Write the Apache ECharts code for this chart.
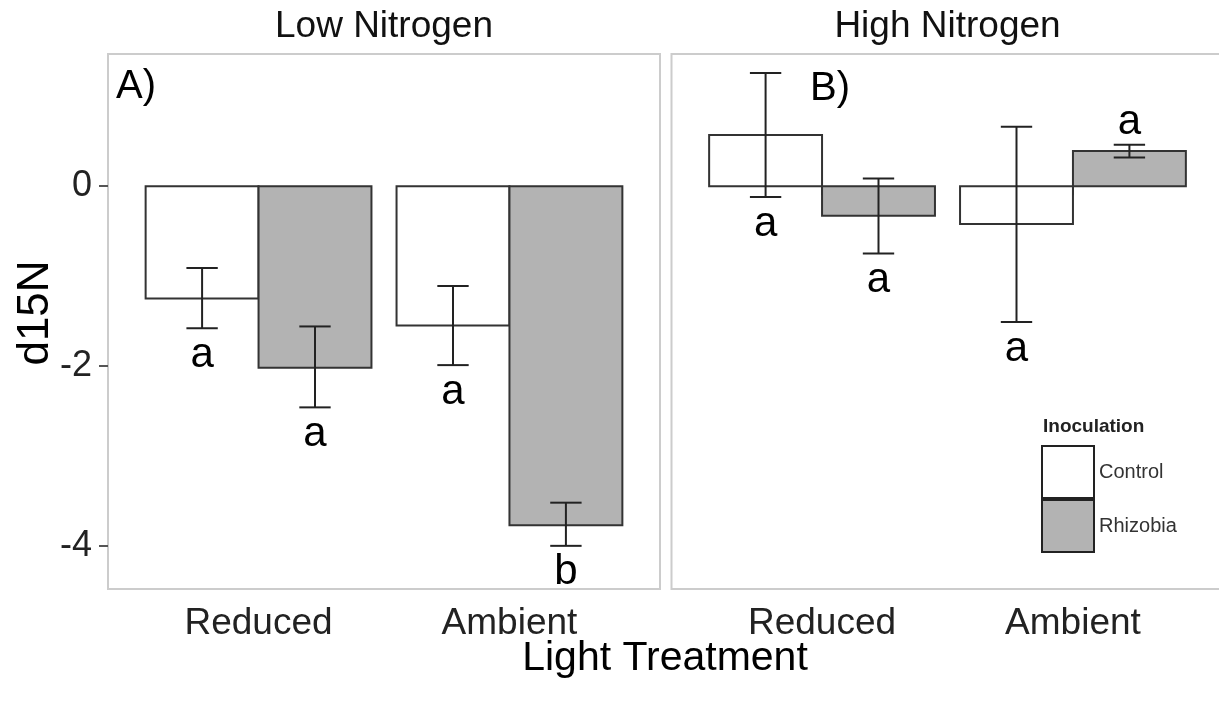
<!DOCTYPE html>
<html>
<head>
<meta charset="utf-8">
<script src="https://cdn.jsdelivr.net/npm/echarts@6/dist/echarts.min.js"></script>
<style>
html,body{margin:0;padding:0;background:#fff;}
#chart{width:1219px;height:704px;}
</style>
</head>
<body>
<div id="chart"></div>
<script>
// ---- data ----
const panels = ['Low Nitrogen', 'High Nitrogen'];
const panelTags = ['A)', 'B)'];
const lightLevels = ['Reduced', 'Ambient'];
const inoculations = ['Control', 'Rhizobia'];
const yTicks = [-4, -2, 0];

// Low nitrogen (index: Reduced, Ambient)
const lowControlMean = [-1.25, -1.55];
const lowControlLow  = [-1.58, -1.99];
const lowControlHigh = [-0.91, -1.11];
const lowRhizobiaMean = [-2.02, -3.77];
const lowRhizobiaLow  = [-2.46, -4.00];
const lowRhizobiaHigh = [-1.56, -3.52];
const lowControlLetters = ['a', 'a'];
const lowRhizobiaLetters = ['a', 'b'];
const lowControlLetterSide = ['below', 'below'];
const lowRhizobiaLetterSide = ['below', 'below'];

// High nitrogen
const highControlMean = [0.57, -0.42];
const highControlLow  = [-0.12, -1.51];
const highControlHigh = [1.26, 0.66];
const highRhizobiaMean = [-0.33, 0.39];
const highRhizobiaLow  = [-0.75, 0.32];
const highRhizobiaHigh = [0.086, 0.46];
const highControlLetters = ['a', 'a'];
const highRhizobiaLetters = ['a', 'a'];
const highControlLetterSide = ['below', 'below'];
const highRhizobiaLetterSide = ['below', 'above'];

// ---- build ----
const FONT = '"Liberation Sans", Arial, Helvetica, sans-serif';
const fills = { Control: '#ffffff', Rhizobia: '#b3b3b3' };
const dodge = { Control: -0.225, Rhizobia: 0.225 };
const BAR_W = 0.45;
const CAP_W = 0.125;

function rows(mean, lo, hi, letters, sides) {
  return mean.map((m, i) => [i + 1, m, lo[i], hi[i], letters[i], sides[i]]);
}
const panelData = [
  { Control: rows(lowControlMean, lowControlLow, lowControlHigh, lowControlLetters, lowControlLetterSide),
    Rhizobia: rows(lowRhizobiaMean, lowRhizobiaLow, lowRhizobiaHigh, lowRhizobiaLetters, lowRhizobiaLetterSide) },
  { Control: rows(highControlMean, highControlLow, highControlHigh, highControlLetters, highControlLetterSide),
    Rhizobia: rows(highRhizobiaMean, highRhizobiaLow, highRhizobiaHigh, highRhizobiaLetters, highRhizobiaLetterSide) }
];

const gridLeft = [108, 671.5];
const grids = gridLeft.map(l => ({
  left: l, top: 54, width: 552, height: 535,
  show: true, borderColor: '#cccccc', borderWidth: 2, backgroundColor: 'transparent',
  containLabel: false, outerBoundsMode: 'none'
}));

const xAxes = panels.map((p, i) => ({
  type: 'value', gridIndex: i, min: 0.4, max: 2.6,
  splitLine: { show: false },
  axisLine: { show: false },
  axisTick: { show: true, customValues: [1, 2], length: 9, lineStyle: { color: '#555', width: 2 } },
  axisLabel: { show: true, customValues: [1, 2], margin: 16,
    formatter: v => lightLevels[Math.round(v) - 1] || '',
    fontFamily: FONT, fontSize: 37, color: '#222' }
}));

const yAxes = panels.map((p, i) => ({
  type: 'value', gridIndex: i, min: -4.48, max: 1.47,
  splitLine: { show: false },
  axisLine: { show: false },
  axisTick: { show: i === 0, customValues: yTicks, length: 9, lineStyle: { color: '#555', width: 2 } },
  axisLabel: { show: i === 0, customValues: yTicks, margin: 16,
    formatter: v => String(v), fontFamily: FONT, fontSize: 36, color: '#222' }
}));

const series = [];
panels.forEach((p, pi) => {
  inoculations.forEach(inoc => {
    series.push({
      type: 'custom', name: inoc, xAxisIndex: pi, yAxisIndex: pi,
      data: panelData[pi][inoc],
      encode: { x: 0, y: 1 },
      itemStyle: { color: fills[inoc] },
      renderItem: function (params, api) {
        const xc = api.value(0) + dodge[inoc];
        const m = api.value(1);
        const a = api.coord([xc - BAR_W / 2, m]);
        const b = api.coord([xc + BAR_W / 2, 0]);
        return {
          type: 'rect',
          shape: { x: Math.min(a[0], b[0]), y: Math.min(a[1], b[1]),
                   width: Math.abs(b[0] - a[0]), height: Math.abs(b[1] - a[1]) },
          style: { fill: fills[inoc], stroke: '#333333', lineWidth: 2 }
        };
      }
    });
  });
});
// error bars and letters drawn on top
panels.forEach((p, pi) => {
  inoculations.forEach(inoc => {
    series.push({
      type: 'custom', name: inoc + ' err', xAxisIndex: pi, yAxisIndex: pi,
      data: panelData[pi][inoc],
      encode: { x: 0, y: [2, 3] },
      z: 5,
      renderItem: function (params, api) {
        const xc = api.value(0) + dodge[inoc];
        const lo = api.value(2), hi = api.value(3);
        const letter = panelData[pi][inoc][params.dataIndex][4];
        const side = panelData[pi][inoc][params.dataIndex][5];
        const pLo = api.coord([xc, lo]);
        const pHi = api.coord([xc, hi]);
        const cl = api.coord([xc - CAP_W / 2, lo]);
        const cr = api.coord([xc + CAP_W / 2, lo]);
        const ls = { stroke: '#222222', lineWidth: 2 };
        const ty = side === 'above' ? pHi[1] - 22 : pLo[1] + 27;
        return {
          type: 'group',
          children: [
            { type: 'line', shape: { x1: pLo[0], y1: pLo[1], x2: pHi[0], y2: pHi[1] }, style: ls },
            { type: 'line', shape: { x1: cl[0], y1: pLo[1], x2: cr[0], y2: pLo[1] }, style: ls },
            { type: 'line', shape: { x1: cl[0], y1: pHi[1], x2: cr[0], y2: pHi[1] }, style: ls },
            { type: 'text', x: pLo[0], y: ty,
              style: { text: letter, fill: '#000', font: '42px ' + FONT,
                       align: 'center', verticalAlign: 'middle' } }
          ]
        };
      }
    });
  });
});

const graphic = [
  { type: 'text', x: 384, y: 27, style: { text: panels[0], fill: '#111', font: '37px ' + FONT, align: 'center', verticalAlign: 'middle' } },
  { type: 'text', x: 947.5, y: 27, style: { text: panels[1], fill: '#111', font: '37px ' + FONT, align: 'center', verticalAlign: 'middle' } },
  { type: 'text', x: 116, y: 87, style: { text: panelTags[0], fill: '#000', font: '40px ' + FONT, align: 'left', verticalAlign: 'middle' } },
  { type: 'text', x: 810, y: 89, style: { text: panelTags[1], fill: '#000', font: '40px ' + FONT, align: 'left', verticalAlign: 'middle' } },
  { type: 'text', x: 36, y: 313, rotation: Math.PI / 2, style: { text: 'd15N', fill: '#000', font: '44px ' + FONT, align: 'center', verticalAlign: 'middle' } },
  { type: 'text', x: 665, y: 659, style: { text: 'Light Treatment', fill: '#000', font: '41px ' + FONT, align: 'center', verticalAlign: 'middle' } },
  { type: 'text', x: 1043, y: 427, style: { text: 'Inoculation', fill: '#222', font: 'bold 19px ' + FONT, align: 'left', verticalAlign: 'middle' } }
];

const option = {
  animation: false,
  backgroundColor: '#ffffff',
  grid: grids,
  xAxis: xAxes,
  yAxis: yAxes,
  legend: {
    orient: 'vertical', left: 1041, top: 445, padding: 0,
    itemWidth: 52, itemHeight: 52, itemGap: 0,
    selectedMode: false,
    textStyle: { fontFamily: FONT, fontSize: 20, color: '#333' },
    data: inoculations.map(n => ({ name: n, icon: 'rect',
      itemStyle: { color: fills[n], borderColor: '#222', borderWidth: 2 } }))
  },
  graphic: graphic,
  series: series
};

const chart = echarts.init(document.getElementById('chart'), null, { renderer: 'canvas' });
chart.setOption(option);
</script>
</body>
</html>
